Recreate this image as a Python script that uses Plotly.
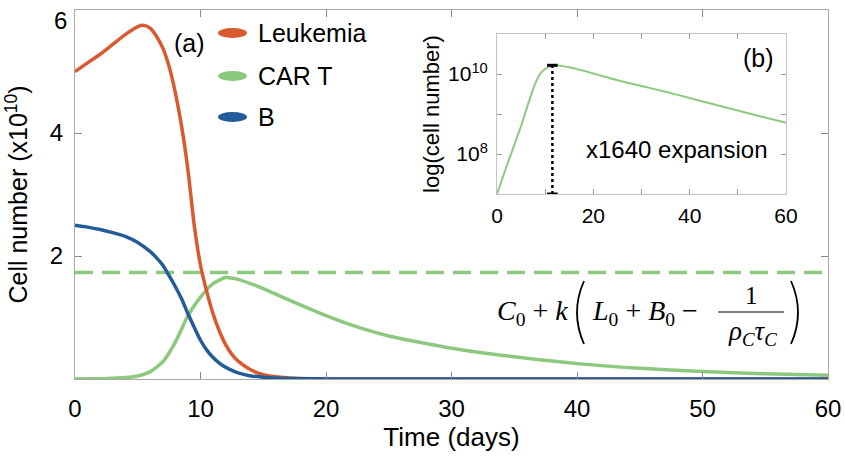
import plotly.graph_objects as go

# ---------------- data (cell numbers in units of 1e10) ----------------
series_names = ["Leukemia", "CAR T", "B"]

t_leuk = [0, 1, 2, 3, 4, 5, 5.5, 6, 6.5, 7, 7.5, 8, 8.5, 9, 9.5, 10, 10.5, 11, 11.5,
          12, 12.5, 13, 14, 15, 16, 17, 18, 20, 25, 30, 40, 50, 60]
leukemia = [5.0, 5.14, 5.28, 5.44, 5.6, 5.73, 5.75, 5.7, 5.57, 5.38, 5.08, 4.65, 4.1,
            3.4, 2.5, 1.85, 1.42, 1.06, 0.78, 0.56, 0.4, 0.29, 0.15, 0.07, 0.035,
            0.017, 0.008, 0.002, 0.0, 0.0, 0.0, 0.0, 0.0]

t_cart = [0, 1, 2, 3, 4, 5, 6, 7, 8, 9, 10, 11, 12, 13, 14, 15, 16, 18, 20, 22, 25,
          30, 35, 40, 45, 50, 55, 60]
car_t = [0.001, 0.00224, 0.005, 0.0107, 0.023, 0.05, 0.12, 0.28, 0.6, 1.03, 1.33,
         1.55, 1.65, 1.62, 1.55, 1.47, 1.38, 1.2, 1.03, 0.88, 0.7, 0.5, 0.36, 0.25,
         0.175, 0.122, 0.085, 0.06]

t_b = [0, 1, 2, 3, 4, 5, 6, 6.5, 7, 7.5, 8, 8.5, 9, 9.5, 10, 10.5, 11, 11.5, 12, 12.5,
       13, 14, 15, 16, 18, 20, 25, 30, 40, 50, 60]
b_cells = [2.5, 2.47, 2.43, 2.38, 2.32, 2.22, 2.07, 1.97, 1.85, 1.68, 1.5, 1.3, 1.06,
           0.84, 0.63, 0.47, 0.35, 0.26, 0.19, 0.14, 0.1, 0.05, 0.03, 0.015, 0.005,
           0.001, 0.0, 0.0, 0.0, 0.0, 0.0]

threshold = 1.73          # C0 + k(L0 + B0 - 1/(rho_C tau_C))
scale = 1e10
expansion_label = "x1640 expansion"

x_ticks = [0, 10, 20, 30, 40, 50, 60]
y_ticks = [2, 4, 6]
y_tick_text = ["2", "4", ""]      # the top label "6" is set just below its tick, as in the source
top_tick_label = "6"
inset_x_ticks = [0, 10, 20, 30, 40, 50, 60]
inset_x_text = ["0", "", "20", "", "40", "", "60"]
inset_y_ticks = [1e8, 1e9, 1e10]
inset_y_text = ["10<sup>8</sup>", "", "10<sup>10</sup>"]

colors = {"Leukemia": "#D95A30", "CAR T": "#8CC97E", "B": "#245C9A"}

# ---------------- layout helpers (pixel -> paper) ----------------
W, H = 845, 459
L, R, T, B = 75, 17, 10, 80
PW, PH = W - L - R, H - T - B


def px(x):
    return (x - L) / PW


def py(y):
    return (H - B - y) / PH


FONT = "Liberation Sans, Arial, Helvetica, sans-serif"
SERIF = "Liberation Serif, DejaVu Serif, serif"
AXC = "#a8a8a8"

fig = go.Figure()

# main panel
fig.add_trace(go.Scatter(x=[x_ticks[0], x_ticks[-1]], y=[threshold, threshold], mode="lines",
                         line=dict(color=colors["CAR T"], width=3.5, dash="18px,9px"),
                         showlegend=False, hoverinfo="skip"))
fig.add_trace(go.Scatter(x=t_cart, y=car_t, mode="lines", name="CAR T",
                         line=dict(color=colors["CAR T"], width=3.5, shape="spline", smoothing=0.6),
                         showlegend=False))
fig.add_trace(go.Scatter(x=t_leuk, y=leukemia, mode="lines", name="Leukemia",
                         line=dict(color=colors["Leukemia"], width=3.5, shape="spline", smoothing=0.6),
                         showlegend=False))
fig.add_trace(go.Scatter(x=t_b, y=b_cells, mode="lines", name="B",
                         line=dict(color=colors["B"], width=3.5, shape="spline", smoothing=0.6),
                         showlegend=False))

# inset panel (log scale)
car_abs = [v * scale for v in car_t]
fig.add_trace(go.Scatter(x=t_cart, y=car_abs, mode="lines", xaxis="x2", yaxis="y2",
                         line=dict(color=colors["CAR T"], width=2, shape="spline", smoothing=0.6),
                         showlegend=False))
i_peak = max(range(len(car_abs)), key=lambda i: car_abs[i])
t_peak_line = t_cart[i_peak] - 0.5
c0, c_peak = car_abs[0], car_abs[i_peak]
fig.add_trace(go.Scatter(x=[t_peak_line, t_peak_line], y=[c0, c_peak], mode="lines",
                         xaxis="x2", yaxis="y2", line=dict(color="black", width=2.5, dash="dot"),
                         showlegend=False, hoverinfo="skip"))
cap = 1.1
for yv in (c0, c_peak):
    fig.add_trace(go.Scatter(x=[t_peak_line - cap, t_peak_line + cap], y=[yv, yv], mode="lines",
                             xaxis="x2", yaxis="y2", line=dict(color="black", width=3),
                             showlegend=False, hoverinfo="skip"))

# ---------------- axes ----------------
fig.update_layout(
    width=W, height=H,
    margin=dict(l=L, r=R, t=T, b=B, autoexpand=False),
    paper_bgcolor="white", plot_bgcolor="white",
    font=dict(family=FONT, color="black"),
    xaxis=dict(range=[0, 60], tickvals=x_ticks, ticks="inside", ticklen=7, tickcolor="#888",
               showline=True, linecolor=AXC, linewidth=1.2, mirror="allticks",
               showgrid=False, zeroline=False, tickfont=dict(size=24),
               ticklabelstandoff=8, ticklabeloverflow="allow", automargin=False,
               title=dict(text="Time (days)", font=dict(size=26), standoff=6)),
    yaxis=dict(range=[0, 6], tickvals=y_ticks, ticktext=y_tick_text, ticks="inside", ticklen=7,
               tickcolor="#888",
               showline=True, linecolor=AXC, linewidth=1.2, mirror="allticks",
               showgrid=False, zeroline=False, tickfont=dict(size=24),
               ticklabelstandoff=6, ticklabeloverflow="allow", automargin=False,
               title=dict(text="Cell number (x10<sup>10</sup>)", font=dict(size=25), standoff=14)),
    xaxis2=dict(domain=[px(497), px(786)], anchor="y2", range=[0, 60],
                tickvals=inset_x_ticks, ticktext=inset_x_text, ticks="inside", ticklen=5,
                tickcolor="#999", showline=True, linecolor="#c4c4c4", mirror="allticks",
                showgrid=False, zeroline=False, tickfont=dict(size=21), ticklabelstandoff=3,
                ticklabeloverflow="allow", automargin=False),
    yaxis2=dict(domain=[py(194), py(34)], anchor="x2", type="log", range=[7, 11],
                tickvals=inset_y_ticks, ticktext=inset_y_text, ticks="inside", ticklen=5,
                tickcolor="#999", showline=True, linecolor="#c4c4c4", mirror="allticks",
                showgrid=False, zeroline=False, tickfont=dict(size=21), ticklabelstandoff=4,
                ticklabeloverflow="allow", automargin=False,
                title=dict(text="log(cell number)", font=dict(size=22), standoff=2)),
)

# ---------------- legend (drawn manually to get the oval keys) ----------------
shapes = []
annotations = []


def note(x, y, text, font, xanchor="center"):
    return dict(x=px(x), y=py(y), xref="paper", yref="paper", text=text, showarrow=False,
                xanchor=xanchor, yanchor="middle", font=font)


leg_y = [33, 76, 117]
for name, yy in zip(series_names, leg_y):
    shapes.append(dict(type="circle", xref="paper", yref="paper",
                       x0=px(218), x1=px(247), y0=py(yy + 5), y1=py(yy - 5),
                       fillcolor=colors[name], line=dict(width=0)))
    annotations.append(note(256, yy, name, dict(size=25), "left"))

annotations += [
    note(60, 20, top_tick_label, dict(size=24)),
    note(189, 43, "(a)", dict(size=25)),
    note(758, 58, "(b)", dict(size=25)),
    note(676, 150, expansion_label, dict(size=24)),
]

# equation label for the dashed line
eq_font = dict(family=SERIF, size=28)
annotations += [
    note(570, 312, "<i>C</i><sub>0</sub> + <i>k</i>", eq_font, "right"),
    note(590, 312, "<i>L</i><sub>0</sub> + <i>B</i><sub>0</sub> \u2212", eq_font, "left"),
    note(751, 295, "1", dict(family=SERIF, size=25)),
    note(752, 333, "<i>\u03c1<sub>C</sub>\u03c4<sub>C</sub></i>", dict(family=SERIF, size=27)),
]
shapes.append(dict(type="line", xref="paper", yref="paper", x0=px(718), x1=px(784),
                   y0=py(312), y1=py(312), line=dict(color="black", width=1.2)))


def paren(x_end, x_ctrl, y_top, y_bot):
    return dict(type="path", xref="paper", yref="paper",
                path=f"M {px(x_end)},{py(y_top)} Q {px(x_ctrl)},{py((y_top + y_bot) / 2)} "
                     f"{px(x_end)},{py(y_bot)}",
                line=dict(color="black", width=1.8))


shapes.append(paren(584, 570, 281, 344))
shapes.append(paren(791, 805, 281, 344))

fig.update_layout(shapes=shapes, annotations=annotations)

fig.write_html("out.html", config={"displayModeBar": False},
               post_script="document.body.style.margin='0';")
